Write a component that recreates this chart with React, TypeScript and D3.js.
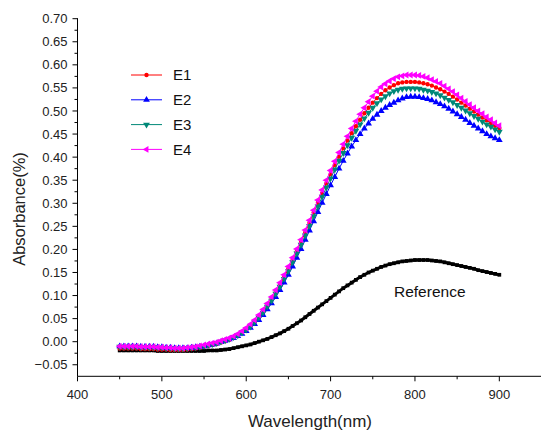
import React from "react";
import * as d3 from "d3";

const wavelengths: number[] = d3.range(450, 901, 5);

const e1: number[] = [
  -0.015, -0.015, -0.015, -0.015, -0.015, -0.016, -0.016, -0.016, -0.016, -0.017,
  -0.017, -0.017, -0.018, -0.018, -0.018, -0.018, -0.017, -0.016, -0.015, -0.013,
  -0.011, -0.009, -0.007, -0.005, -0.002, 0.001, 0.004, 0.008, 0.013, 0.019,
  0.026, 0.034, 0.043, 0.053, 0.065, 0.078, 0.092, 0.107, 0.123, 0.140,
  0.158, 0.177, 0.196, 0.216, 0.237, 0.258, 0.280, 0.301, 0.322, 0.343,
  0.363, 0.383, 0.401, 0.419, 0.436, 0.452, 0.467, 0.481, 0.495, 0.507,
  0.518, 0.528, 0.537, 0.545, 0.551, 0.556, 0.560, 0.562, 0.563, 0.563,
  0.563, 0.562, 0.560, 0.558, 0.555, 0.551, 0.547, 0.542, 0.537, 0.531,
  0.525, 0.518, 0.512, 0.505, 0.499, 0.492, 0.486, 0.480, 0.474, 0.468,
  0.463,
];

const e2: number[] = [
  -0.010, -0.010, -0.010, -0.010, -0.010, -0.011, -0.011, -0.011, -0.011, -0.012,
  -0.012, -0.013, -0.013, -0.014, -0.014, -0.014, -0.014, -0.013, -0.012, -0.011,
  -0.010, -0.008, -0.006, -0.004, -0.001, 0.002, 0.005, 0.008, 0.012, 0.017,
  0.023, 0.030, 0.038, 0.047, 0.058, 0.070, 0.083, 0.097, 0.112, 0.128,
  0.145, 0.163, 0.182, 0.201, 0.221, 0.241, 0.261, 0.281, 0.301, 0.320,
  0.339, 0.357, 0.375, 0.392, 0.408, 0.423, 0.437, 0.450, 0.462, 0.473,
  0.483, 0.492, 0.500, 0.507, 0.513, 0.518, 0.523, 0.527, 0.530, 0.531,
  0.531, 0.530, 0.528, 0.526, 0.523, 0.519, 0.515, 0.510, 0.505, 0.499,
  0.493, 0.487, 0.481, 0.474, 0.468, 0.462, 0.456, 0.450, 0.445, 0.441,
  0.437,
];

const e3: number[] = [
  -0.011, -0.011, -0.011, -0.011, -0.011, -0.012, -0.012, -0.012, -0.012, -0.013,
  -0.013, -0.014, -0.014, -0.015, -0.015, -0.015, -0.014, -0.013, -0.012, -0.011,
  -0.009, -0.007, -0.005, -0.003, 0.000, 0.003, 0.006, 0.010, 0.014, 0.020,
  0.026, 0.033, 0.042, 0.052, 0.063, 0.076, 0.089, 0.104, 0.119, 0.136,
  0.153, 0.172, 0.191, 0.210, 0.230, 0.251, 0.272, 0.293, 0.314, 0.334,
  0.354, 0.373, 0.392, 0.409, 0.426, 0.442, 0.457, 0.471, 0.484, 0.496,
  0.507, 0.517, 0.525, 0.532, 0.538, 0.543, 0.546, 0.548, 0.549, 0.549,
  0.549, 0.548, 0.546, 0.544, 0.541, 0.538, 0.534, 0.529, 0.524, 0.519,
  0.513, 0.507, 0.501, 0.495, 0.489, 0.483, 0.477, 0.471, 0.466, 0.460,
  0.455,
];

const e4: number[] = [
  -0.010, -0.010, -0.010, -0.010, -0.010, -0.011, -0.011, -0.011, -0.011, -0.012,
  -0.012, -0.013, -0.013, -0.014, -0.014, -0.014, -0.013, -0.012, -0.011, -0.009,
  -0.007, -0.005, -0.003, -0.001, 0.002, 0.005, 0.008, 0.012, 0.017, 0.023,
  0.030, 0.038, 0.047, 0.058, 0.070, 0.083, 0.097, 0.112, 0.128, 0.145,
  0.163, 0.182, 0.201, 0.221, 0.242, 0.263, 0.285, 0.307, 0.329, 0.350,
  0.371, 0.391, 0.410, 0.428, 0.445, 0.462, 0.478, 0.493, 0.507, 0.520,
  0.532, 0.543, 0.552, 0.559, 0.565, 0.570, 0.574, 0.576, 0.578, 0.578,
  0.578, 0.577, 0.575, 0.572, 0.568, 0.564, 0.560, 0.554, 0.548, 0.542,
  0.535, 0.528, 0.521, 0.514, 0.507, 0.500, 0.494, 0.487, 0.481, 0.474,
  0.468,
];

const reference: number[] = [
  -0.019, -0.019, -0.019, -0.019, -0.019, -0.019, -0.019, -0.019, -0.019, -0.020,
  -0.020, -0.020, -0.020, -0.020, -0.020, -0.020, -0.020, -0.020, -0.020, -0.020,
  -0.020, -0.019, -0.019, -0.019, -0.018, -0.017, -0.016, -0.014, -0.012, -0.010,
  -0.008, -0.006, -0.003, 0.000, 0.003, 0.006, 0.010, 0.014, 0.018, 0.023,
  0.028, 0.034, 0.040, 0.046, 0.053, 0.060, 0.067, 0.074, 0.081, 0.088,
  0.095, 0.102, 0.109, 0.116, 0.122, 0.128, 0.134, 0.140, 0.145, 0.150,
  0.154, 0.158, 0.162, 0.165, 0.168, 0.170, 0.172, 0.174, 0.175, 0.176,
  0.177, 0.177, 0.177, 0.177, 0.176, 0.175, 0.174, 0.172, 0.170, 0.168,
  0.166, 0.164, 0.162, 0.160, 0.158, 0.155, 0.153, 0.151, 0.149, 0.147,
  0.145,
];

const seriesNames: string[] = ["E1", "E2", "E3", "E4"];
const seriesColors: string[] = ["#ff0000", "#0000ff", "#008878", "#ff00ff"];
const xTicks: number[] = [400, 500, 600, 700, 800, 900];
const yTicks: number[] = [-0.05, 0, 0.05, 0.1, 0.15, 0.2, 0.25, 0.3, 0.35, 0.4, 0.45, 0.5, 0.55, 0.6, 0.65, 0.7];
const xLabel = "Wavelength(nm)";
const yLabel = "Absorbance(%)";
const refLabel = "Reference";

const FONT = "'Liberation Sans', Arial, sans-serif";

export default function App() {
  const W = 541;
  const H = 431;
  const x = d3.scaleLinear().domain([400, 950]).range([77.5, 541.5]);
  const y = d3.scaleLinear().domain([-0.075, 0.7]).range([376.3, 18.7]);
  const x0 = x(400);
  const yb = y(-0.075);

  const allSeries = [e1, e2, e3, e4];
  const line = d3
    .line<[number, number]>()
    .x((d) => x(d[0]))
    .y((d) => y(d[1]));

  const symbolTypes = [d3.symbolCircle, d3.symbolTriangle, d3.symbolTriangle, d3.symbolTriangle];
  const rotations = [0, 0, 180, -90];
  const sizes = [15, 20, 20, 20];
  const symPaths = symbolTypes.map((t, i) => d3.symbol().type(t).size(sizes[i])() as string);
  const squarePath = d3.symbol().type(d3.symbolSquare).size(14)() as string;

  const xMinor = d3.range(450, 951, 100);
  const yMinor = d3.range(-0.025, 0.7, 0.05);

  const refPts: [number, number][] = wavelengths.map((w, i) => [w, reference[i]]);

  return (
    <svg width={W} height={H} style={{ position: "absolute", left: 0, top: 0, background: "#fff" }}>
      <rect x={0} y={0} width={W} height={H} fill="#fff" />
      {/* reference series */}
      <path d={line(refPts) || ""} fill="none" stroke="#000" strokeWidth={3} />
      {refPts.map((p, i) => (
        <path key={"r" + i} d={squarePath} transform={`translate(${x(p[0])},${y(p[1])})`} fill="#000" />
      ))}
      {/* E series */}
      {allSeries.map((s, si) => {
        const pts: [number, number][] = wavelengths.map((w, i) => [w, s[i]]);
        return (
          <g key={"s" + si}>
            <path d={line(pts) || ""} fill="none" stroke={seriesColors[si]} strokeWidth={1} />
            {pts.map((p, i) => (
              <path
                key={i}
                d={symPaths[si]}
                transform={`translate(${x(p[0])},${y(p[1])}) rotate(${rotations[si]})`}
                fill={seriesColors[si]}
              />
            ))}
          </g>
        );
      })}
      {/* axes */}
      <line x1={x0} x2={x0} y1={y(0.7) - 0.5} y2={yb} stroke="#000" strokeWidth={1} />
      <line x1={x0} x2={W} y1={yb} y2={yb} stroke="#000" strokeWidth={1} />
      {yTicks.map((t) => (
        <g key={"yt" + t}>
          <line x1={x0 - 5} x2={x0} y1={y(t)} y2={y(t)} stroke="#000" />
          <text
            x={x0 - 10}
            y={y(t)}
            dy="0.35em"
            textAnchor="end"
            fontFamily={FONT}
            fontSize={13}
            fill="#222"
          >
            {d3.format(".2f")(t)}
          </text>
        </g>
      ))}
      {yMinor.map((t) => (
        <line key={"ym" + t} x1={x0 - 3} x2={x0} y1={y(t)} y2={y(t)} stroke="#000" />
      ))}
      {xTicks.map((t) => (
        <g key={"xt" + t}>
          <line x1={x(t)} x2={x(t)} y1={yb} y2={yb + 5} stroke="#000" />
          <text x={x(t)} y={yb + 23} textAnchor="middle" fontFamily={FONT} fontSize={13} fill="#222">
            {t}
          </text>
        </g>
      ))}
      {xMinor.map((t) => (
        <line key={"xm" + t} x1={x(t)} x2={x(t)} y1={yb} y2={yb + 3} stroke="#000" />
      ))}
      {/* axis labels */}
      <text x={310} y={427} textAnchor="middle" fontFamily={FONT} fontSize={17} fill="#222">
        {xLabel}
      </text>
      <text
        transform={`translate(25,${209}) rotate(-90)`}
        textAnchor="middle"
        fontFamily={FONT}
        fontSize={16.5}
        fill="#222"
      >
        {yLabel}
      </text>
      {/* legend */}
      {seriesNames.map((n, i) => {
        const ly = 75 + i * 24.8;
        return (
          <g key={"lg" + i}>
            <line x1={131} x2={162} y1={ly} y2={ly} stroke={seriesColors[i]} strokeWidth={1} />
            <path
              d={symPaths[i]}
              transform={`translate(146.5,${ly}) rotate(${rotations[i]})`}
              fill={seriesColors[i]}
            />
            <text x={173} y={ly} dy="0.36em" fontFamily={FONT} fontSize={15} fill="#111">
              {n}
            </text>
          </g>
        );
      })}
      <text x={394} y={297} fontFamily={FONT} fontSize={15.5} fill="#111">
        {refLabel}
      </text>
    </svg>
  );
}
